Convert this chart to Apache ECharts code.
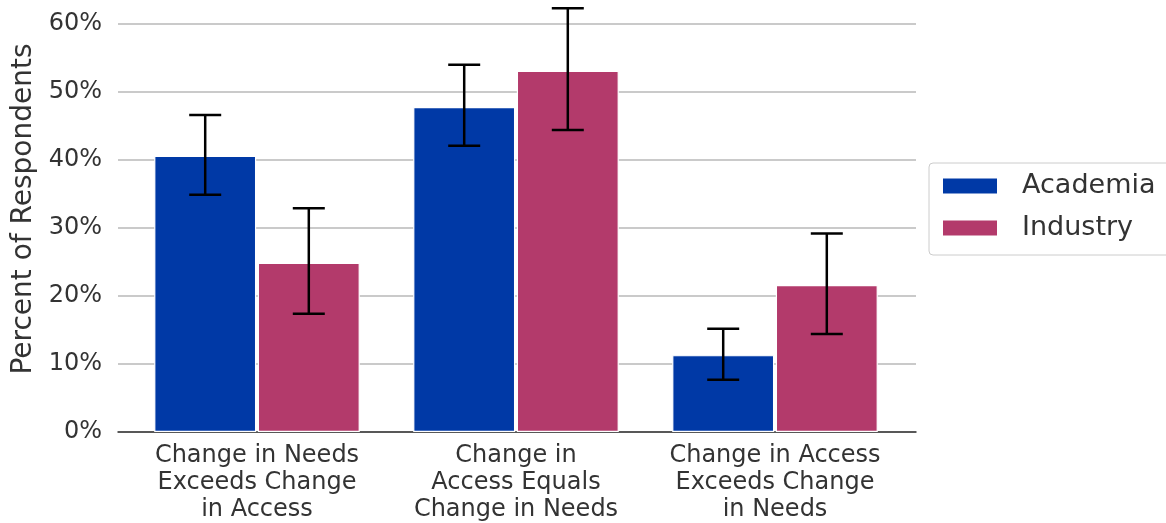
<!DOCTYPE html>
<html>
<head>
<meta charset="utf-8">
<script src="https://cdn.jsdelivr.net/npm/echarts@6/dist/echarts.min.js"></script>
<style>
html,body{margin:0;padding:0;background:#fff;}
#chart{width:1166px;height:523px;}
</style>
</head>
<body>
<div id="chart"></div>
<script>
const categories = ["Change in Needs\nExceeds Change\nin Access", "Change in\nAccess Equals\nChange in Needs", "Change in Access\nExceeds Change\nin Needs"];
const academia = [40.6, 47.8, 11.3];
const industry = [24.9, 53.1, 21.6];
const academiaLow = [34.9, 42.1, 7.7];
const academiaHigh = [46.6, 54.0, 15.2];
const industryLow = [17.4, 44.4, 14.4];
const industryHigh = [32.9, 62.3, 29.2];
const seriesNames = ["Academia", "Industry"];

const FONT = "DejaVu Sans";
const TXT = "#333333";

function errData(lo, hi) { return lo.map((l, i) => [i, l, hi[i]]); }
function errRender(sign) {
  return function (params, api) {
    const idx = api.value(0);
    const cx0 = api.coord([idx, 0])[0];
    const bw = api.size([1, 0])[0];
    const cx = cx0 + sign * 0.2 * bw;
    const yl = api.coord([idx, api.value(1)])[1];
    const yh = api.coord([idx, api.value(2)])[1];
    const hw = 16;
    const st = { stroke: "#000", lineWidth: 2.5 };
    return {
      type: "group",
      children: [
        { type: "line", shape: { x1: cx, y1: yl, x2: cx, y2: yh }, style: st },
        { type: "line", shape: { x1: cx - hw, y1: yl, x2: cx + hw, y2: yl }, style: st },
        { type: "line", shape: { x1: cx - hw, y1: yh, x2: cx + hw, y2: yh }, style: st }
      ]
    };
  };
}

const chart = echarts.init(document.getElementById("chart"), null, { renderer: "canvas" });
chart.setOption({
  animation: false,
  backgroundColor: "#fff",
  textStyle: { fontFamily: FONT },
  grid: [
    { left: 118, right: 250, top: 24, bottom: 91 },
    { left: 127.5, right: 261.5, top: 24, bottom: 91 }
  ],
  xAxis: [
    { type: "value", gridIndex: 0, min: 0, max: 1, axisLabel: { show: false }, axisTick: { show: false }, splitLine: { show: false },
      axisLine: { show: true, lineStyle: { color: "#333", width: 1.5 } } },
    { type: "category", gridIndex: 1, data: categories, axisLine: { show: false }, axisTick: { show: false },
      axisLabel: { fontFamily: FONT, fontSize: 24, lineHeight: 27, color: TXT, margin: 10, interval: 0 } }
  ],
  yAxis: [
    { type: "value", gridIndex: 0, min: 0, max: 60, interval: 10,
      axisLabel: { formatter: "{value}%", fontFamily: FONT, fontSize: 24, color: TXT, margin: 16 },
      axisLine: { show: false }, axisTick: { show: false },
      splitLine: { show: true, lineStyle: { color: "#b8b8b8", width: 1.5 } },
      name: "Percent of Respondents", nameLocation: "middle", nameRotate: 90, nameGap: 78,
      nameTextStyle: { fontFamily: FONT, fontSize: 28, color: TXT, padding: [0, 0, 0, 38] } },
    { type: "value", gridIndex: 1, min: 0, max: 60, interval: 10, show: false, splitLine: { show: false } }
  ],
  legend: {
    data: seriesNames,
    orient: "vertical",
    left: 929, top: 163,
    itemWidth: 56, itemHeight: 17, itemGap: 12,
    icon: "rect",
    selectedMode: false,
    backgroundColor: "#fff",
    borderColor: "#cccccc", borderWidth: 1, borderRadius: 4,
    padding: [8, 40, 12, 12],
    textStyle: { fontFamily: FONT, fontSize: 27, lineHeight: 30, color: TXT, padding: [0, 0, 0, 19] }
  },
  series: [
    { name: "Academia", type: "bar", xAxisIndex: 1, yAxisIndex: 1, data: academia, barWidth: 102, barGap: "1.6%",
      itemStyle: { color: "#0039A6", borderColor: "#fff", borderWidth: 1.2 } },
    { name: "Industry", type: "bar", xAxisIndex: 1, yAxisIndex: 1, data: industry, barWidth: 102, barGap: "1.6%",
      itemStyle: { color: "#B33A6B", borderColor: "#fff", borderWidth: 1.2 } },
    { name: "AcademiaErr", type: "custom", xAxisIndex: 1, yAxisIndex: 1, clip: false, z: 5,
      renderItem: errRender(-1), data: errData(academiaLow, academiaHigh), encode: { x: 0, y: [1, 2] } },
    { name: "IndustryErr", type: "custom", xAxisIndex: 1, yAxisIndex: 1, clip: false, z: 5,
      renderItem: errRender(1), data: errData(industryLow, industryHigh), encode: { x: 0, y: [1, 2] } }
  ]
});
</script>
</body>
</html>
